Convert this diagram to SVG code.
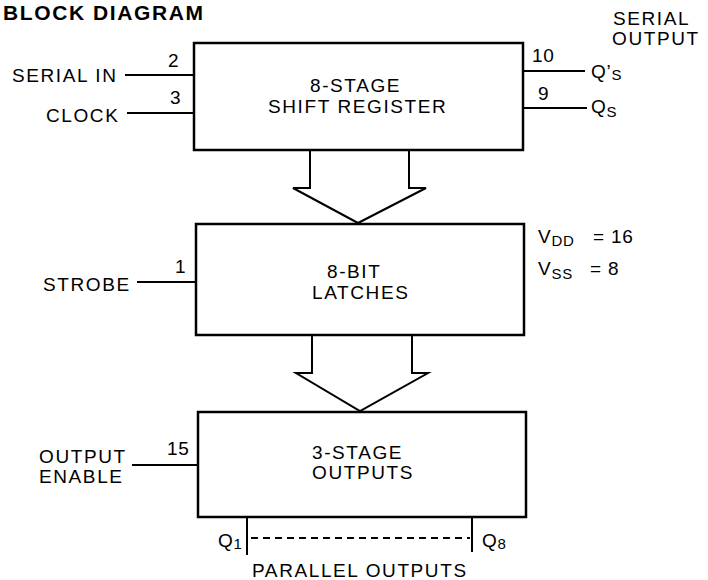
<svg xmlns="http://www.w3.org/2000/svg" width="708" height="580" viewBox="0 0 708 580">
<style>
  text { font-family: "Liberation Sans", Arial, sans-serif; font-size: 19px; fill: #000; letter-spacing: 1.6px; }
  .title { font-size: 21px; font-weight: bold; letter-spacing: 1.6px; }
  .pin { letter-spacing: 0.8px; }
  .sub { font-size: 15px; letter-spacing: 0.8px; }
  .box { fill: #fff; stroke: #000; stroke-width: 2.5; }
  .wire { fill: none; stroke: #000; stroke-width: 2; }
  .arrow { fill: #fff; stroke: #000; stroke-width: 2; stroke-linejoin: miter; }
  .dash { fill: none; stroke: #000; stroke-width: 2; stroke-dasharray: 7 5; }
</style>
<rect width="708" height="580" fill="#fff"/>
<text class="title" x="3" y="20">BLOCK DIAGRAM</text>

<g id="connectors">
  <line class="wire" x1="125" y1="75" x2="194" y2="75"/>
  <line class="wire" x1="127" y1="113" x2="194" y2="113"/>
  <line class="wire" x1="523" y1="71" x2="585" y2="71"/>
  <line class="wire" x1="523" y1="108" x2="587" y2="108"/>
  <line class="wire" x1="137" y1="282" x2="196" y2="282"/>
  <line class="wire" x1="132" y1="465" x2="198" y2="465"/>
  <line class="wire" x1="247" y1="517" x2="247" y2="555"/>
  <line class="wire" x1="472" y1="517" x2="472" y2="552"/>
  <line class="dash" x1="251" y1="538" x2="470" y2="538"/>
  <path class="arrow" d="M310,150 L310,188 L293,188 L358,223 L426,188 L409,188 L409,150"/>
  <path class="arrow" d="M312,335 L312,373 L296,373 L360,411 L428,373 L412,373 L412,335"/>
</g>

<g id="shift-register">
  <rect class="box" x="194" y="43" width="329" height="107"/>
  <text x="310" y="92">8-STAGE</text>
  <text x="268" y="113">SHIFT REGISTER</text>
</g>

<g id="latches">
  <rect class="box" x="196" y="224" width="328" height="111"/>
  <text x="327" y="278">8-BIT</text>
  <text x="312" y="299">LATCHES</text>
</g>

<g id="outputs">
  <rect class="box" x="198" y="412" width="328" height="105"/>
  <text x="312" y="459">3-STAGE</text>
  <text x="312" y="479">OUTPUTS</text>
</g>

<g id="labels">
  <text x="12" y="82">SERIAL IN</text>
  <text x="46" y="122">CLOCK</text>
  <text class="pin" x="168" y="67">2</text>
  <text class="pin" x="170" y="104">3</text>
  <text x="613" y="25">SERIAL</text>
  <text x="612" y="45">OUTPUT</text>
  <text class="pin" x="532" y="62">10</text>
  <text class="pin" x="538" y="100">9</text>
  <text class="pin" x="591" y="78">Q’<tspan class="sub" dy="2">S</tspan></text>
  <text class="pin" x="591" y="113">Q<tspan class="sub" dy="4">S</tspan></text>
  <text x="43" y="291">STROBE</text>
  <text class="pin" x="175" y="273">1</text>
  <text class="pin" x="538" y="243">V<tspan class="sub" dy="3">DD</tspan></text>
  <text class="pin" x="593" y="243">= 16</text>
  <text class="pin" x="538" y="275">V<tspan class="sub" dy="4">SS</tspan></text>
  <text class="pin" x="590" y="275">= 8</text>
  <text x="39" y="463">OUTPUT</text>
  <text x="39" y="483">ENABLE</text>
  <text class="pin" x="167" y="455">15</text>
  <text class="pin" x="218" y="547">Q<tspan class="sub" dy="2">1</tspan></text>
  <text class="pin" x="482" y="547">Q<tspan class="sub" dy="2">8</tspan></text>
  <text x="252" y="577">PARALLEL OUTPUTS</text>
</g>
</svg>
